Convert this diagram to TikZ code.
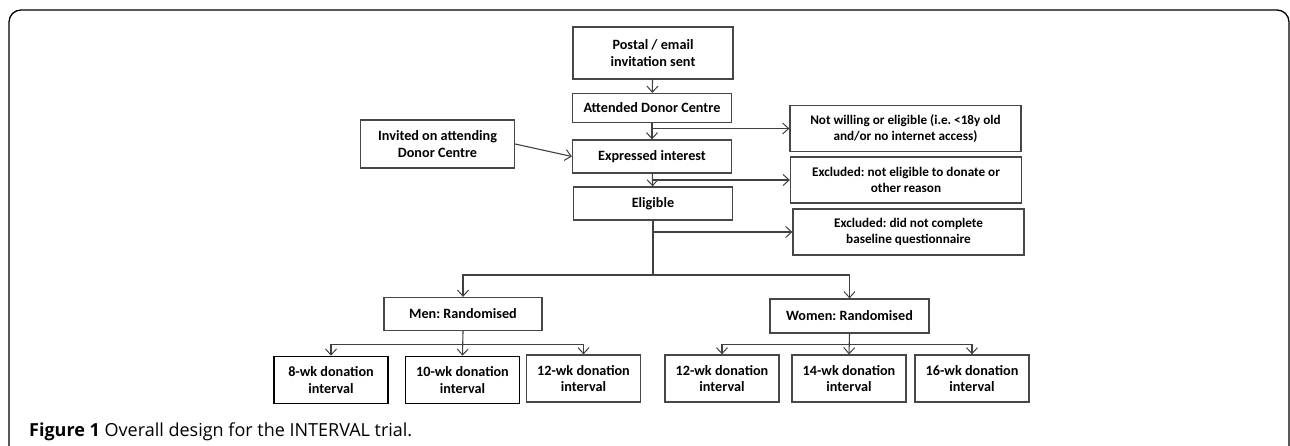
\documentclass[tikz,border=0pt]{standalone}
\usepackage{fontspec}
\setmainfont{Carlito}
\newfontfamily\capfont{Open Sans}
\usepackage{tikz}
\usetikzlibrary{arrows.meta}
\frenchspacing
\tikzstyle{block} = [draw=black!72, line width=1.3pt, fill=white, align=center,
   inner sep=0pt, font=\bfseries\fontsize{14.2}{16.5}\selectfont]
\tikzstyle{wide} = [block, minimum width=231pt, minimum height=46pt,
   font=\bfseries\fontsize{13.2}{16.5}\selectfont]
\tikzstyle{wk} = [block, minimum width=114pt, minimum height=47pt]
\tikzstyle{arr} = [line width=1.1pt, draw=black!75,
   -{Straight Barb[length=6pt,width=11pt,line width=1pt]}]
\tikzstyle{ln} = [line width=1.1pt, draw=black!75]

\begin{document}
\begin{tikzpicture}[x=1pt, y=-1pt]
  \useasboundingbox (0,0) rectangle (1290,445);
  \draw[line width=1.3pt, rounded corners=12pt] (9,446) -- (9,10) -- (1289,10) -- (1289,446);

  % main column
  \node[block, minimum width=160pt, minimum height=52pt] (p) at (653,53) {Postal / email\\invitation sent};
  \node[block, minimum width=159pt, minimum height=29pt] (a) at (652,108) {Attended Donor Centre};
  \node[block, minimum width=159pt, minimum height=33pt] (e) at (652,156.5) {Expressed interest};
  \node[block, minimum width=159pt, minimum height=33pt] (g) at (653,203.5) {Eligible};
  \node[block, minimum width=154pt, minimum height=48pt] (i) at (437.5,144) {Invited on attending\\Donor Centre};

  % exclusions
  \node[wide] (x1) at (905.5,128.5) {Not willing or eligible (i.e. <18y old\\and/or no internet access)};
  \node[wide] (x2) at (906,180) {Excluded: not eligible to donate or\\other reason};
  \node[wide] (x3) at (908.5,232) {Excluded: did not complete\\baseline questionnaire};

  % randomisation
  \node[block, minimum width=158pt, minimum height=33pt] (m) at (463,314) {Men: Randomised};
  \node[block, minimum width=159pt, minimum height=34pt] (w) at (849.5,316) {Women: Randomised};
  \node[wk, line width=1.6pt, draw=black] (m8) at (331,380) {8-wk donation\\interval};
  \node[wk, line width=1.6pt, draw=black] (m10) at (462.5,380) {10-wk donation\\interval};
  \node[wk] (m12) at (583.5,378.5) {12-wk donation\\interval};
  \node[wk] (w12) at (722,378.5) {12-wk donation\\interval};
  \node[wk] (w14) at (849,378.5) {14-wk donation\\interval};
  \node[wk] (w16) at (972,378.5) {16-wk donation\\interval};

  \node[anchor=base west, inner sep=0pt, font=\capfont\fontsize{18}{21}\selectfont] (cap) at (29,436)
    {\textbf{Figure 1} Overall design for the INTERVAL trial.};

  % branch points
  \coordinate (b1) at (a.south |- x1.west);
  \coordinate (b2) at (e.south |- x2.west);
  \coordinate (b3) at (g.south |- x3.west);
  \coordinate (b4) at (g.south |- 0,275);
  \path (m.south) -- (m10.north) coordinate[pos=0.54] (bm);
  \path (w.south) -- (w14.north) coordinate[pos=0.54] (bw);

  % arrows
  \draw[arr] (p) -- (a);
  \draw[arr] (a) -- (e);
  \draw[arr] (e) -- (g);
  \draw[arr] (i.east) -- (e.west);
  \draw[arr] (b1) -- (x1.west);
  \draw[arr] (b2) -- (x2.west);
  \draw[arr] (b3) -- (x3.west);
  \draw[ln] (g.south) -- (b4);
  \draw[arr] (b4) -| (m.north);
  \draw[arr] (b4) -| (w.north);
  \draw[arr] (m.south) -- (m10.north);
  \draw[arr] (bm) -| (m8.north);
  \draw[arr] (bm) -| (m12.north);
  \draw[arr] (w.south) -- (w14.north);
  \draw[arr] (bw) -| (w12.north);
  \draw[arr] (bw) -| (w16.north);
\end{tikzpicture}
\end{document}
